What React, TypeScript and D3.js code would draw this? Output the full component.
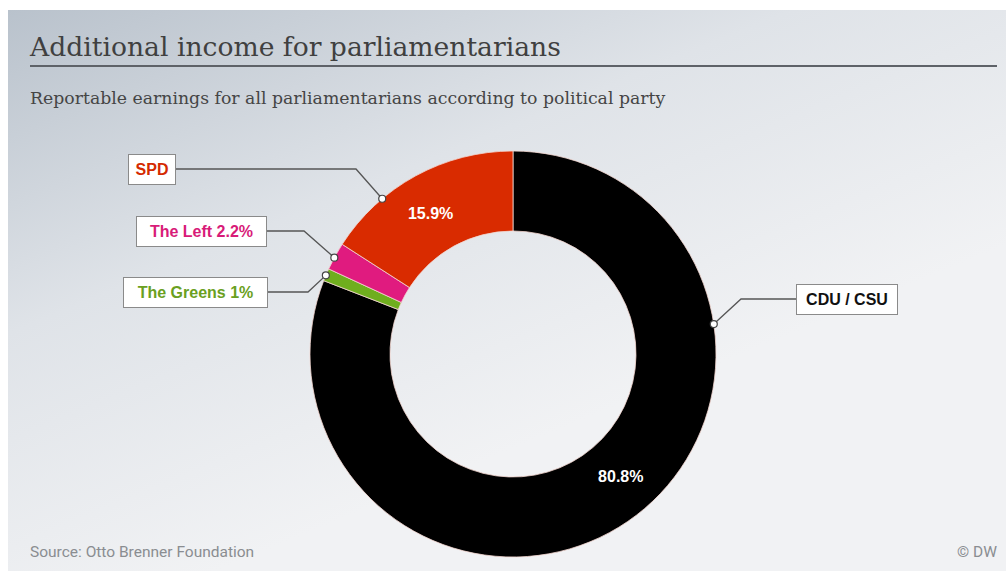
import React from "react";
import * as d3 from "d3";

const parties = ["CDU / CSU", "The Greens", "The Left", "SPD"];
const shares = [80.8, 1.0, 2.2, 15.9];
const colors = ["#000000", "#6fae1e", "#e01b7f", "#d92b00"];
const labelTexts = ["CDU / CSU", "The Greens 1%", "The Left 2.2%", "SPD"];
const labelColors = ["#111111", "#6aa021", "#d81b78", "#d42a00"];
const innerLabels = ["80.8%", "", "", "15.9%"];
// where along each slice the inner percentage sits (fraction of slice span)
const innerFrac = [0.476, 0.5, 0.5, 0.47];
// where along each slice the leader dot sits (fraction of slice span)
const anchorFrac = [0.28, 0.45, 0.45, 0.3];
// label box layout: [boxLeft, boxTop, boxWidth, elbowX]
const boxLayout: [number, number, number, number][] = [
  [796, 284, 101, 741],
  [123, 277, 144, 308],
  [136, 216, 130, 304],
  [128, 154, 47, 356],
];

const W = 1006, H = 571;
const cx = 513, cy = 354, R = 203, r = 123;

export default function App() {
  const pie = d3.pie<number>().value((d) => d).sort(null)(shares);
  const arc = d3.arc<d3.PieArcDatum<number>>().innerRadius(r).outerRadius(R);
  const boxH = 30;
  const mid = (R + r) / 2;
  return (
    <svg width={W} height={H} style={{ position: "absolute", left: 0, top: 0 }}>
      <defs>
        <linearGradient id="bg" x1="0" y1="0" x2="0.55" y2="0.75">
          <stop offset="0" stopColor="#b9c2cc" />
          <stop offset="0.5" stopColor="#dfe3e8" />
          <stop offset="1" stopColor="#f1f2f4" />
        </linearGradient>
      </defs>
      <rect x={8} y={10} width={W - 8} height={H - 10} fill="url(#bg)" />
      <text x={30} y={56} fontFamily="DejaVu Serif" fontSize={26.6} fill="#404040">
        Additional income for parliamentarians
      </text>
      <line x1={30} x2={997} y1={66} y2={66} stroke="#5e6268" strokeWidth={2} />
      <text x={30} y={104} fontFamily="DejaVu Serif" fontSize={17.3} fill="#454545">
        Reportable earnings for all parliamentarians according to political party
      </text>
      <g transform={`translate(${cx},${cy})`}>
        {pie.map((p, i) => (
          <path key={i} d={arc(p) || ""} fill={colors[i]} stroke="#f3d6cf" strokeWidth={0.8} />
        ))}
        {pie.map((p, i) => {
          if (!innerLabels[i]) return null;
          const a = p.startAngle + (p.endAngle - p.startAngle) * innerFrac[i];
          return (
            <text
              key={"t" + i}
              x={mid * Math.sin(a)}
              y={-mid * Math.cos(a)}
              dy="0.35em"
              textAnchor="middle"
              fontFamily="Liberation Sans, Arial"
              fontWeight="bold"
              fontSize={16}
              fill="#ffffff"
            >
              {innerLabels[i]}
            </text>
          );
        })}
      </g>
      {pie.map((p, i) => {
        const a = p.startAngle + (p.endAngle - p.startAngle) * anchorFrac[i];
        const dx = cx + R * Math.sin(a);
        const dy = cy - R * Math.cos(a);
        const [bx, by, bw, ex] = boxLayout[i];
        const my = by + boxH / 2;
        const right = bx > cx;
        const lineEnd = right ? bx : bx + bw;
        return (
          <g key={"l" + i}>
            <polyline
              points={`${dx},${dy} ${ex},${my} ${lineEnd},${my}`}
              fill="none"
              stroke="#555"
              strokeWidth={1.3}
            />
            <circle cx={dx} cy={dy} r={3.5} fill="#fff" stroke="#444" strokeWidth={1.2} />
            <rect x={bx + 0.5} y={by + 0.5} width={bw} height={boxH} fill="#fff" stroke="#8a8a8a" strokeWidth={1} />
            <text
              x={bx + bw / 2 + 0.5}
              y={my + 0.5}
              dy="0.36em"
              textAnchor="middle"
              fontFamily="Liberation Sans, Arial"
              fontWeight="bold"
              fontSize={16}
              fill={labelColors[i]}
            >
              {labelTexts[i]}
            </text>
          </g>
        );
      })}
      <text x={30} y={557} fontFamily="Roboto" fontSize={15.5} fill="#8a8d91">
        Source: Otto Brenner Foundation
      </text>
      <text x={997} y={557} textAnchor="end" fontFamily="Roboto" fontSize={15.5} fill="#8a8d91">
        © DW
      </text>
    </svg>
  );
}
